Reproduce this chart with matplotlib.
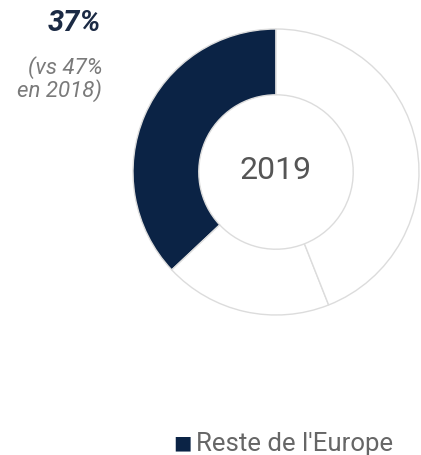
import matplotlib.pyplot as plt

plt.rcParams['font.family'] = ['Roboto', 'DejaVu Sans']

# data
parts = [37, 19, 44]
part_colors = ['#0b2345', 'white', 'white']
year = '2019'
share_label = '37%'
compare_lines = ['(vs 47%', 'en 2018)']
legend_label = "Reste de l'Europe"

W, H = 421, 456
fig = plt.figure(figsize=(W / 100, H / 100), dpi=100)

# donut: centre (276, 173) px, outer radius 143 px
cx, cy, r = 276, 173, 143
ax = fig.add_axes([(cx - r) / W, (H - cy - r) / H, 2 * r / W, 2 * r / H])
ax.pie(parts, colors=part_colors, startangle=90, counterclock=True, radius=1,
       wedgeprops=dict(width=0.46, edgecolor='#dcdcdc', linewidth=1))
ax.set_xlim(-1, 1)
ax.set_ylim(-1, 1)
ax.set_aspect('equal')
ax.axis('off')
for p in ax.patches:
    p.set_clip_on(False)

ax.text(0, 0.015, year, ha='center', va='center', fontsize=23, color='#555555')

# left annotation
fig.text(101 / W, 1 - 23 / H, share_label, ha='right', va='center',
         fontsize=21, fontweight='bold', style='italic', color='#1b2a44')
fig.text(102 / W, 1 - 68 / H, compare_lines[0], ha='right', va='center',
         fontsize=16, style='italic', color='#7a7a7a')
fig.text(102 / W, 1 - 91 / H, compare_lines[1], ha='right', va='center',
         fontsize=16, style='italic', color='#7a7a7a')

# legend
fig.text(182 / W, 1 - 443 / H, '\u25a0', ha='center', va='center',
         fontsize=14, color=part_colors[0], family=['DejaVu Sans'])
fig.text(196 / W, 1 - 444 / H, legend_label, ha='left', va='center',
         fontsize=18.5, color='#666666')

fig.savefig('out.png', dpi=100)
